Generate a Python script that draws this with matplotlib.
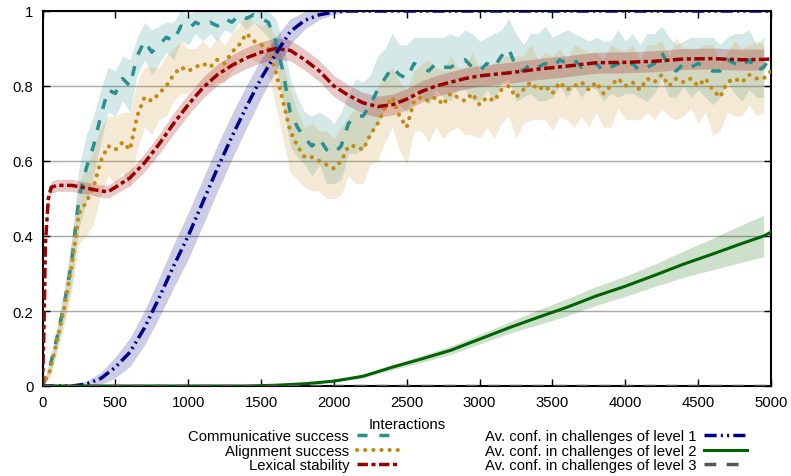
import numpy as np
import matplotlib
matplotlib.use('Agg')
import matplotlib.pyplot as plt

plt.rcParams['font.family'] = ['Liberation Sans', 'DejaVu Sans']

# noisy series, sampled every 50 interactions (0..5000)
step_x = list(range(0, 5001, 50))

comm_success = [
    0.00, 0.05, 0.13, 0.22, 0.33, 0.50, 0.58, 0.64, 0.72, 0.79,
    0.78, 0.82, 0.80, 0.88, 0.92, 0.89, 0.91, 0.93, 0.92, 0.96,
    0.95, 0.97, 0.96, 0.97, 0.96, 0.98, 0.97, 0.99, 0.98, 0.99,
    0.98, 0.97, 0.92, 0.84, 0.73, 0.69, 0.66, 0.64, 0.66, 0.63,
    0.62, 0.64, 0.70, 0.72, 0.72, 0.75, 0.79, 0.82, 0.85, 0.83,
    0.82, 0.86, 0.85, 0.84, 0.86, 0.85, 0.85, 0.86, 0.87, 0.85,
    0.84, 0.86, 0.85, 0.88, 0.90, 0.85, 0.84, 0.86, 0.85, 0.86,
    0.85, 0.87, 0.86, 0.87, 0.85, 0.86, 0.86, 0.84, 0.85, 0.86,
    0.85, 0.86, 0.84, 0.85, 0.86, 0.89, 0.85, 0.84, 0.86, 0.85,
    0.86, 0.85, 0.84, 0.84, 0.87, 0.86, 0.85, 0.87, 0.84, 0.85,
    0.88]
comm_spread = [
    0.00, 0.02, 0.03, 0.04, 0.06, 0.08, 0.09, 0.08, 0.07, 0.06,
    0.06, 0.06, 0.07, 0.05, 0.05, 0.06, 0.05, 0.04, 0.05, 0.04,
    0.04, 0.03, 0.04, 0.03, 0.04, 0.03, 0.03, 0.02, 0.03, 0.02,
    0.03, 0.04, 0.06, 0.08, 0.09, 0.08, 0.07, 0.08, 0.07, 0.09,
    0.08, 0.09, 0.08, 0.10, 0.09, 0.08, 0.09, 0.08, 0.09, 0.08,
    0.09, 0.07, 0.08, 0.09, 0.07, 0.08, 0.09, 0.07, 0.08, 0.09,
    0.08, 0.07, 0.09, 0.07, 0.08, 0.09, 0.07, 0.08, 0.09, 0.10,
    0.08, 0.07, 0.09, 0.07, 0.08, 0.06, 0.07, 0.08, 0.07, 0.09,
    0.07, 0.08, 0.07, 0.09, 0.08, 0.07, 0.08, 0.07, 0.06, 0.08,
    0.07, 0.08, 0.09, 0.07, 0.06, 0.08, 0.09, 0.08, 0.07, 0.08,
    0.00]

align_success = [
    0.00, 0.04, 0.12, 0.21, 0.32, 0.46, 0.49, 0.53, 0.60, 0.64,
    0.63, 0.65, 0.63, 0.72, 0.77, 0.76, 0.78, 0.80, 0.83, 0.85,
    0.84, 0.85, 0.86, 0.85, 0.87, 0.86, 0.89, 0.91, 0.94, 0.92,
    0.91, 0.90, 0.84, 0.76, 0.68, 0.64, 0.61, 0.61, 0.60, 0.59,
    0.58, 0.60, 0.64, 0.64, 0.63, 0.67, 0.70, 0.74, 0.77, 0.72,
    0.69, 0.76, 0.77, 0.76, 0.77, 0.75, 0.78, 0.77, 0.76, 0.78,
    0.75, 0.77, 0.76, 0.79, 0.80, 0.77, 0.79, 0.81, 0.79, 0.80,
    0.78, 0.81, 0.79, 0.80, 0.81, 0.79, 0.81, 0.78, 0.80, 0.82,
    0.80, 0.81, 0.79, 0.82, 0.81, 0.83, 0.80, 0.82, 0.81, 0.82,
    0.80, 0.82, 0.79, 0.77, 0.81, 0.82, 0.81, 0.83, 0.82, 0.82,
    0.84]
align_spread = [
    0.00, 0.02, 0.03, 0.05, 0.07, 0.08, 0.09, 0.10, 0.09, 0.08,
    0.09, 0.08, 0.10, 0.09, 0.08, 0.09, 0.07, 0.08, 0.07, 0.07,
    0.06, 0.05, 0.06, 0.05, 0.06, 0.05, 0.05, 0.05, 0.05, 0.05,
    0.05, 0.07, 0.09, 0.10, 0.11, 0.09, 0.08, 0.09, 0.08, 0.09,
    0.08, 0.09, 0.08, 0.10, 0.09, 0.08, 0.10, 0.09, 0.08, 0.09,
    0.10, 0.08, 0.09, 0.11, 0.08, 0.09, 0.10, 0.08, 0.09, 0.11,
    0.09, 0.08, 0.10, 0.09, 0.08, 0.11, 0.09, 0.10, 0.08, 0.09,
    0.10, 0.09, 0.08, 0.11, 0.09, 0.10, 0.08, 0.09, 0.11, 0.08,
    0.09, 0.10, 0.08, 0.09, 0.10, 0.09, 0.08, 0.11, 0.09, 0.08,
    0.10, 0.09, 0.12, 0.09, 0.08, 0.10, 0.09, 0.08, 0.10, 0.09,
    0.00]

# lexical stability
lex_x = [0, 10, 20, 40, 60, 100, 200, 300, 400, 450, 500, 600, 700, 800, 900,
         1000, 1100, 1200, 1300, 1400, 1500, 1600, 1700, 1800, 1900, 2000,
         2100, 2200, 2300, 2400, 2500, 2600, 2700, 2800, 2900, 3000, 3200,
         3400, 3600, 3800, 4000, 4200, 4400, 4600, 4800, 4950, 5000]
lex_stab = [0.00, 0.15, 0.38, 0.50, 0.53, 0.535, 0.535, 0.528, 0.52, 0.518,
            0.53, 0.555, 0.595, 0.645, 0.70, 0.75, 0.795, 0.83, 0.855, 0.875,
            0.89, 0.90, 0.895, 0.87, 0.84, 0.80, 0.775, 0.755, 0.745, 0.75,
            0.765, 0.785, 0.80, 0.81, 0.82, 0.827, 0.835, 0.845, 0.853, 0.862,
            0.863, 0.866, 0.872, 0.873, 0.870, 0.871, 0.872]
lex_spread = [0.0, 0.008, 0.012, 0.015, 0.016, 0.016, 0.016, 0.016, 0.016, 0.017,
              0.018, 0.021, 0.024, 0.026, 0.028, 0.028, 0.028, 0.028, 0.028, 0.028,
              0.028, 0.028, 0.028, 0.028, 0.028, 0.028, 0.028, 0.028, 0.028, 0.028,
              0.028, 0.028, 0.028, 0.028, 0.028, 0.028, 0.028, 0.028, 0.028, 0.028,
              0.028, 0.028, 0.028, 0.028, 0.028, 0.028, 0.0]

# confidence in challenges of level 1
lvl1_x = [0, 200, 300, 400, 500, 600, 700, 800, 900, 1000, 1100, 1200, 1300,
          1400, 1500, 1600, 1700, 1800, 1900, 2000, 2100, 2200, 5000]
lvl1 = [0.0, 0.0, 0.005, 0.02, 0.05, 0.09, 0.155, 0.235, 0.32, 0.40, 0.49,
        0.58, 0.665, 0.745, 0.82, 0.885, 0.945, 0.975, 0.99, 0.997, 1.0, 1.0, 1.0]
lvl1_spread = [0.0, 0.0, 0.008, 0.016, 0.028, 0.038, 0.046, 0.053, 0.058, 0.062,
               0.062, 0.062, 0.06, 0.057, 0.052, 0.045, 0.034, 0.023, 0.013,
               0.006, 0.002, 0.0, 0.0]

# confidence in challenges of level 2
lvl2_x = [0, 1400, 1600, 1800, 2000, 2200, 2400, 2600, 2800, 3000, 3200, 3400,
          3600, 3800, 4000, 4200, 4400, 4600, 4800, 4950, 5000]
lvl2 = [0.0, 0.0, 0.002, 0.006, 0.013, 0.026, 0.05, 0.072, 0.095, 0.125, 0.155,
        0.183, 0.21, 0.24, 0.266, 0.295, 0.325, 0.352, 0.38, 0.40, 0.41]
lvl2_spread = [0.0, 0.0, 0.0, 0.001, 0.002, 0.004, 0.007, 0.009, 0.011, 0.013,
               0.015, 0.02, 0.023, 0.025, 0.027, 0.03, 0.035, 0.042, 0.05, 0.055, 0.0]

# confidence in challenges of level 3
lvl3_x = [0, 5000]
lvl3 = [0.0, 0.0]

TEAL = '#2a8f8f'
GOLD = '#c48a12'
RED = '#9a0000'
BLUE = '#00008b'
GREEN = '#006400'
GRAY = '#555555'
FS = 10.7

fig = plt.figure(figsize=(7.91, 4.77), dpi=100)
ax = fig.add_axes([42.5 / 791, 1 - 387 / 477, (771 - 42.5) / 791, (387 - 12) / 477])


def band(x, y, s, color, alpha):
    # shaded spread, drawn up to the last sampled point before 5000
    x = np.array(x)[:-1]
    y = np.array(y)[:-1]
    s = np.array(s)[:-1]
    ax.fill_between(x, np.clip(y - s, 0, 1), np.clip(y + s, 0, 1),
                    color=color, alpha=alpha, linewidth=0, zorder=1)


band(step_x, comm_success, comm_spread, TEAL, 0.2)
band(step_x, align_success, align_spread, GOLD, 0.18)
band(lex_x, lex_stab, lex_spread, RED, 0.22)
band(lvl1_x, lvl1, lvl1_spread, BLUE, 0.2)
band(lvl2_x, lvl2, lvl2_spread, GREEN, 0.2)

lw = 2.5
h1, = ax.plot(step_x, comm_success, color=TEAL, lw=lw, ls=(0, (2.9, 3.4)),
              label='Communicative success', zorder=3)
h2, = ax.plot(step_x, align_success, color=GOLD, lw=3.0, ls=(0, (0.05, 1.9)),
              dash_capstyle='round', label='Alignment success', zorder=3)
h3, = ax.plot(lex_x, lex_stab, color=RED, lw=lw, ls=(0, (3.0, 1.0, 1.2, 1.0)),
              label='Lexical stability', zorder=4)
h4, = ax.plot(lvl1_x, lvl1, color=BLUE, lw=lw, ls=(0, (3.5, 1.2, 0.6, 1.2, 0.6, 1.2)),
              label='Av. conf. in challenges of level 1', zorder=4)
h5, = ax.plot(lvl2_x, lvl2, color=GREEN, lw=2.2,
              label='Av. conf. in challenges of level 2', zorder=4)
h6, = ax.plot(lvl3_x, lvl3, color=GRAY, lw=lw, ls=(0, (3.4, 3.0)),
              label='Av. conf. in challenges of level 3', zorder=4)

ax.set_xlim(0, 5000)
ax.set_ylim(0, 1)
ax.set_xticks(range(0, 5001, 500))
ax.set_yticks([0, 0.2, 0.4, 0.6, 0.8, 1])
ax.set_yticklabels(['0', '0.2', '0.4', '0.6', '0.8', '1'])
ax.tick_params(direction='in', length=5, width=1, top=True, right=True,
               labelsize=FS, pad=6.5)
ax.yaxis.grid(True, color='#a8a8a8', linewidth=1)
ax.set_axisbelow(True)
for sp in ax.spines.values():
    sp.set_linewidth(1.5)
ax.set_xlabel('Interactions', fontsize=FS, labelpad=6)

leg = fig.legend(handles=[h1, h2, h3, h4, h5, h6], ncol=2, markerfirst=False,
                 frameon=False, fontsize=FS, handlelength=2.9, handletextpad=0.5,
                 columnspacing=5.75, labelspacing=0.02, borderpad=0,
                 loc='upper left', bbox_to_anchor=(181 / 791, 1 - 423 / 477))

fig.savefig('out.png', dpi=100)
